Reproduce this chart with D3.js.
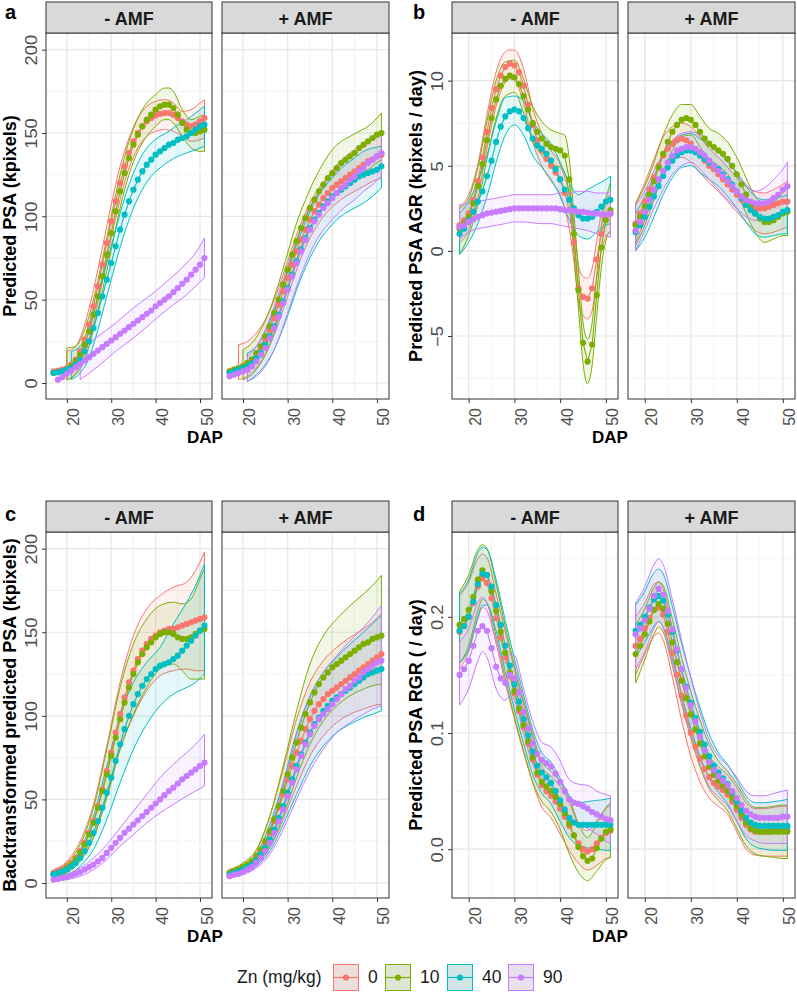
<!DOCTYPE html>
<html><head><meta charset="utf-8">
<script src="https://cdn.jsdelivr.net/npm/d3@7"></script>
<style>body{margin:0;background:#fff}svg{display:block}</style>
</head><body>
<svg id="chart" width="797" height="992"></svg>
<script>
// ---------- categories / ticks ----------
const znLevels = ["0","10","40","90"];
const znColors = ["#F8766D","#7CAE00","#00BFC4","#C77CFF"];
const facetNames = ["- AMF","+ AMF"];
const dap17 = [17,18,19,20,21,22,23,24,25,26,27,28,29,30,31,32,33,34,35,36,37,38,39,40,41,42,43,44,45,46,47,48,49,50,51];
const dap18 = [18,19,20,21,22,23,24,25,26,27,28,29,30,31,32,33,34,35,36,37,38,39,40,41,42,43,44,45,46,47,48,49,50,51];
const xTicks = [20,30,40,50];
const xMinor = [25,35,45];
const psaTicks = [0,50,100,150,200];
const psaMinor = [25,75,125,175];
const agrTicks = [-5,0,5,10];
const agrMinor = [-7.5,-2.5,2.5,7.5,12.5];
const rgrTicks = [0,0.1,0.2];
const rgrMinor = [0.05,0.15,0.25];

// ---------- panel a: predicted PSA (DAP 17..51) ----------
const aMinus0  = [7,7.5,8,9,11,14,19,26,35,46,58,71,84,97,109,120,130,138,145,150,154,157,159,160.5,161.5,162,162,161,159,157,155,154,155,157,159];
const aMinus10 = [6,6.5,7,8,10,13,17,23,31,41,52,64,77,90,103,115,126,135,143,149,154,158,161,164,166,167,167,165,161,156,152,150,150,151,152];
const aMinus40 = [6,6.5,7,8,9,11,14,19,25,33,42,52,62,72,82,92,101,109,116,122,127,131,134,137,139,141,143,144,146,147,148,150,152,154,155];
const aMinus90 = [null,2,3.5,5.5,7.5,9.5,11.5,13.5,15.5,17.5,19.5,21.5,23.5,25.5,27.5,29.5,31.5,33.5,35.5,37.5,39.5,41.5,43.5,46,48,50,52,54.5,57,59.5,62,65,68,71,75];
const aPlus0  = [7,8,9,10,12,14,17,21,26,32,39,47,55,63,71,79,86,92,98,103,107,111,114,117,119,121,123,125,127,129,131,133,134,136,137];
const aPlus10 = [7,8,9,10,12,14,18,22,28,34,42,50,59,68,77,85,93,99,105,110,115,119,123,126,129,132,134,136,138,141,143,145,147,149,150];
const aPlus40 = [6,7,8,9,10,12,15,18,23,28,34,41,49,57,65,73,80,87,93,98,102,106,109,112,114,116,118,120,122,124,125,126,127,128,130];
const aPlus90 = [4,5,6,7,8,10,13,17,21,27,33,40,48,56,64,72,79,86,92,97,101,105,108,111,114,117,119,122,124,127,129,132,134,136,138];
// bands: [DAP, lower, upper]
const aMinus0Band  = [[20,2,19],[22,6,22],[24,17,35],[26,36,56],[28,61,81],[30,87,107],[32,110,130],[34,129,147],[36,141,159],[38,148,166],[40,151,169],[42,152,170],[44,151,168],[46,148,163],[48,145,164],[50,146,168],[51,147,170]];
const aMinus10Band = [[20,2,21],[22,5,22],[24,14,32],[26,32,50],[28,55,74],[30,80,100],[32,105,125],[34,125,145],[36,139,159],[38,148,168],[40,154,173],[42,158,177],[43,158,177],[44,156,175],[46,148,164],[48,141,158],[50,139,160],[51,139,161]];
const aMinus40Band = [[21,2,19],[23,6,22],[25,15,34],[27,32,52],[29,52,72],[31,72,92],[33,90,111],[35,105,126],[37,116,137],[39,124,144],[41,129,148],[43,133,151],[45,136,155],[47,138,158],[49,140,162],[51,142,166]];
const aMinus90Band = [[23,2,20],[27,10,28],[31,19,36],[35,27,45],[39,36,53],[43,45,62],[47,53,72],[49,58,78],[51,63,87]];
const aPlus0Band  = [[19,2,23],[21,4,25],[23,9,30],[25,17,38],[27,29,50],[29,44,65],[31,60,81],[33,75,96],[35,87,108],[37,96,117],[39,103,124],[41,108,131],[43,112,136],[45,115,140],[47,118,143],[49,121,146],[51,123,149]];
const aPlus10Band = [[20,2,20],[22,5,24],[24,12,32],[26,23,44],[28,39,60],[30,57,78],[32,74,96],[34,88,110],[36,98,122],[38,106,132],[40,112,140],[42,116,145],[44,120,148],[46,124,151],[48,128,154],[50,132,159],[51,134,162]];
const aPlus40Band = [[21,1,18],[23,5,22],[25,11,31],[27,20,44],[29,33,59],[31,48,75],[33,63,90],[35,75,103],[37,85,113],[39,92,120],[41,98,126],[43,102,131],[45,105,135],[47,108,139],[49,112,141],[51,117,142]];
const aPlus90Band = [[21,1,16],[23,4,22],[25,10,32],[27,20,46],[29,34,62],[31,50,78],[33,65,93],[35,78,106],[37,88,114],[39,95,121],[41,101,127],[43,106,133],[45,110,138],[47,115,142],[49,119,146],[51,124,150]];

// ---------- panel b: predicted PSA AGR (DAP 18..51) ----------
const bMinus0  = [1.5,1.8,2.2,3.0,4.1,5.5,7.0,8.4,9.5,10.3,10.8,11.0,10.9,10.5,9.7,8.6,7.4,6.5,5.9,5.4,5.0,4.6,4.2,3.4,2.4,0.5,-2.2,-2.7,-2.8,-2.2,-0.5,1.0,2.0,2.2];
const bMinus10 = [1.3,1.6,2.0,2.8,3.8,5.1,6.5,7.8,8.9,9.7,10.1,10.3,10.2,9.8,9.1,8.3,7.5,7.0,6.6,6.3,6.1,6.0,5.9,5.6,4.2,1.0,-2.3,-5.4,-6.5,-5.5,-2.6,0.2,1.8,2.4];
const bMinus40 = [1.0,1.3,1.8,2.3,2.9,3.5,4.4,5.3,6.4,7.3,7.9,8.2,8.3,8.2,7.8,7.2,6.6,6.2,6.0,5.7,5.3,4.8,4.2,3.6,3.0,2.5,2.1,1.9,1.9,2.0,2.3,2.6,2.9,3.0];
const bMinus90 = [1.4,1.5,1.7,1.85,2.0,2.1,2.2,2.25,2.3,2.35,2.4,2.45,2.5,2.5,2.5,2.5,2.5,2.5,2.5,2.5,2.5,2.5,2.45,2.4,2.4,2.35,2.3,2.3,2.25,2.2,2.2,2.15,2.15,2.2];
const bPlus0  = [1.6,2.2,2.9,3.6,4.3,5.0,5.6,6.0,6.3,6.5,6.6,6.5,6.3,6.0,5.6,5.3,5.0,4.8,4.5,4.2,3.9,3.6,3.3,3.0,2.8,2.6,2.5,2.5,2.5,2.6,2.7,2.8,2.9,2.9];
const bPlus10 = [1.5,2.0,2.6,3.3,4.1,4.9,5.7,6.4,7.0,7.4,7.7,7.8,7.7,7.4,7.0,6.6,6.3,6.1,5.9,5.7,5.4,5.0,4.5,3.9,3.3,2.7,2.2,1.9,1.7,1.7,1.8,2.0,2.2,2.3];
const bPlus40 = [1.1,1.5,2.0,2.6,3.2,3.8,4.4,4.9,5.3,5.6,5.8,5.9,5.9,5.8,5.6,5.4,5.2,5.0,4.8,4.5,4.2,3.9,3.5,3.1,2.7,2.4,2.2,2.0,1.9,1.9,2.0,2.1,2.3,2.4];
const bPlus90 = [1.2,1.7,2.3,3.0,3.6,4.2,4.7,5.2,5.6,5.9,6.0,6.1,6.1,6.0,5.8,5.6,5.3,5.0,4.7,4.4,4.1,3.8,3.5,3.2,3.0,2.9,2.8,2.8,2.8,2.9,3.1,3.3,3.6,3.8];
const bMinus0Band  = [[18,0.5,2.6],[20,1.2,3.3],[22,3.1,5.1],[24,6.0,8.0],[26,8.5,10.5],[28,9.9,11.7],[29,10.1,11.8],[30,10.0,11.8],[32,8.7,10.7],[34,6.4,8.4],[36,5.0,6.9],[38,4.1,5.9],[40,3.3,5.1],[41,2.5,4.3],[42,1.3,3.4],[43,-0.6,1.6],[44,-3.0,-0.8],[45,-3.8,-1.5],[46,-4.0,-1.6],[47,-3.5,-1.0],[48,-1.6,0.6],[49,0.0,2.2],[50,0.8,3.0],[51,1.1,3.3]];
const bMinus10Band = [[18,-0.2,2.5],[20,0.9,3.1],[22,2.7,4.9],[24,5.4,7.6],[26,7.8,10.0],[28,9.1,11.1],[30,9.3,11.2],[32,8.1,10.1],[34,6.5,8.5],[36,5.6,7.6],[38,5.1,7.1],[40,4.9,6.9],[41,4.6,6.8],[42,3.2,5.4],[43,-0.1,2.2],[44,-3.4,-1.1],[45,-6.6,-4.2],[46,-7.8,-5.2],[47,-6.7,-4.2],[48,-3.8,-1.4],[49,-1.0,1.4],[50,0.6,3.0],[51,1.2,4.0]];
const bMinus40Band = [[18,-0.2,2.2],[20,0.5,2.9],[22,1.6,4.1],[24,3.2,5.6],[26,5.2,7.6],[28,6.8,9.0],[30,7.4,9.1],[32,6.8,8.8],[34,5.6,7.6],[36,4.9,6.9],[38,4.2,6.3],[40,3.2,5.2],[42,1.8,4.0],[44,0.9,3.3],[46,0.7,3.6],[48,1.1,3.9],[50,1.5,4.2],[51,1.6,4.4]];
const bMinus90Band = [[18,0.7,2.7],[20,1.1,2.8],[22,1.3,2.9],[24,1.4,3.0],[26,1.5,3.1],[28,1.6,3.2],[30,1.7,3.3],[32,1.7,3.3],[34,1.65,3.3],[36,1.6,3.3],[38,1.6,3.3],[40,1.5,3.4],[42,1.4,3.4],[44,1.3,3.5],[46,1.2,3.5],[48,1.0,3.4],[50,0.9,3.4],[51,0.8,3.5]];
const bPlus0Band  = [[18,0.5,2.8],[20,1.8,4.0],[22,3.3,5.4],[24,4.6,6.7],[26,5.3,7.3],[28,5.5,7.5],[30,5.2,7.3],[32,4.6,6.7],[34,4.0,6.0],[36,3.5,5.5],[38,2.9,4.9],[40,2.3,4.3],[42,1.7,3.8],[44,1.2,3.5],[46,1.0,3.4],[48,1.1,3.6],[50,1.3,3.9],[51,1.4,4.1]];
const bPlus10Band = [[18,0.3,2.8],[20,1.5,3.8],[22,3.0,5.2],[24,4.6,6.8],[26,5.9,8.0],[28,6.7,8.6],[30,6.8,8.6],[32,6.1,7.9],[34,5.4,7.2],[36,5.0,6.9],[38,4.5,6.4],[40,3.5,5.5],[42,2.2,4.3],[44,1.1,3.2],[46,0.5,2.8],[48,0.7,2.9],[50,0.9,3.4],[51,0.9,3.7]];
const bPlus40Band = [[18,0.0,2.2],[20,0.8,3.2],[22,2.0,4.4],[24,3.3,5.6],[26,4.3,6.4],[28,4.9,6.8],[30,5.0,6.9],[32,4.6,6.6],[34,4.2,6.2],[36,3.8,5.8],[38,3.2,5.3],[40,2.5,4.6],[42,1.7,3.8],[44,1.0,3.2],[46,0.8,3.0],[48,0.9,3.1],[50,1.0,3.2],[51,1.0,3.3]];
const bPlus90Band = [[18,0.0,2.7],[20,1.2,3.5],[22,2.5,4.7],[24,3.6,5.7],[26,4.5,6.5],[28,5.0,6.9],[30,5.2,7.0],[32,4.8,6.8],[34,4.2,6.3],[36,3.6,5.8],[38,3.0,5.2],[40,2.5,4.6],[42,2.0,3.9],[44,1.8,3.5],[46,1.8,3.7],[48,2.0,4.2],[50,2.2,4.8],[51,2.3,5.2]];

// ---------- panel c: backtransformed predicted PSA (DAP 17..51) ----------
const cMinus0  = [6,7,8,10,12,15,19,24,30,37,46,56,67,78,90,101,111,120,127,134,139,143,146,148,150,151,152,152,153,154,155,156,157,158,159];
const cMinus10 = [5,6,7,9,11,14,18,23,29,36,45,55,65,76,87,98,108,117,125,132,137,141,144,147,149,150,150,149,147,146,146,147,149,151,152];
const cMinus40 = [5,6,7,8,10,12,15,19,24,30,37,45,54,63,73,83,92,100,107,113,118,122,125,128,130,131,132,134,136,139,142,145,148,151,154];
const cMinus90 = [2,2.5,3,3.5,4.5,5.5,6.5,8,9.5,11,13,15,18,21,24,27,30,32.5,35,37.5,40,42.5,45,47.5,50,52.5,55,57,59.5,62,64,66,68,70,72];
const cPlus0  = [6,7,8,9,10.5,12.5,15,19,24,30,37,45,53,62,70,78,85,92,98,103,107,110,113,115,117,119,121,123,125,127,129,131,133,135,137];
const cPlus10 = [6,7,8,9.5,11,13,16,20,25,31,38,46,55,65,75,84,93,101,108,114,119,123,126,129,131,133,135,137,139,141,143,144,146,147,148];
const cPlus40 = [5,6,7,8,9.5,11,13.5,17,21,26,32,39,46,54,62,70,77,84,90,95,99,103,106,109,111,113,115,117,119,121,123,125,126,127,128];
const cPlus90 = [4,5,5.5,6.5,8,9.5,12,15,19,24,30,37,44,52,60,68,76,83,89,94,98,101,104,107,110,113,116,118,121,123,126,128,130,132,133];
const cMinus0Band  = [[17,4,8],[20,7,13],[23,14,25],[26,27,47],[29,52,82],[32,80,120],[35,100,148],[38,115,164],[41,124,172],[44,127,177],[47,128,180],[49,127,187],[51,127,198]];
const cMinus10Band = [[17,4,7],[20,6,12],[23,13,23],[26,27,45],[29,51,80],[32,80,117],[35,101,143],[38,117,158],[41,128,166],[44,131,168],[46,127,167],[48,122,170],[50,122,182],[51,122,188]];
const cMinus40Band = [[17,4,7],[20,5,11],[23,10,20],[26,20,40],[29,38,70],[32,60,100],[35,80,120],[38,95,132],[41,106,141],[44,113,155],[47,117,168],[49,120,178],[51,125,191]];
const cMinus90Band = [[17,1,3],[20,2,5],[23,4,9],[26,8,15],[29,14,23],[32,22,33],[35,29,43],[38,36,53],[41,42,63],[44,47,71],[47,52,78],[49,55,83],[51,58,89]];
const cPlus0Band  = [[17,5,8],[20,7,11],[23,11,19],[26,21,40],[29,38,68],[32,58,98],[35,76,120],[38,88,133],[41,96,141],[44,101,147],[47,104,152],[49,106,156],[51,107,161]];
const cPlus10Band = [[17,5,8],[20,7,12],[23,12,20],[26,22,40],[29,40,70],[32,63,103],[35,83,131],[38,97,148],[41,106,158],[44,112,166],[47,116,173],[49,118,178],[51,119,184]];
const cPlus40Band = [[17,4,7],[20,6,10],[23,10,17],[26,19,35],[29,35,60],[32,53,90],[35,70,112],[38,82,126],[41,90,135],[44,95,143],[47,99,150],[49,101,155],[51,103,160]];
const cPlus90Band = [[17,3,5],[20,5,8],[23,9,15],[26,17,32],[29,32,58],[32,50,88],[35,67,111],[38,80,126],[41,90,136],[44,96,145],[47,101,153],[49,104,159],[51,106,166]];

// ---------- panel d: predicted PSA RGR (DAP 18..51) ----------
const dMinus0  = [0.187,0.192,0.200,0.212,0.226,0.233,0.229,0.216,0.199,0.182,0.165,0.149,0.134,0.119,0.105,0.091,0.077,0.064,0.055,0.050,0.046,0.041,0.035,0.028,0.020,0.012,0.005,0.000,-0.002,0.000,0.005,0.010,0.014,0.016];
const dMinus10 = [0.193,0.198,0.206,0.217,0.232,0.240,0.236,0.222,0.205,0.187,0.169,0.152,0.136,0.121,0.107,0.093,0.079,0.066,0.058,0.054,0.050,0.045,0.039,0.031,0.022,0.012,0.002,-0.006,-0.010,-0.008,0.001,0.009,0.015,0.017];
const dMinus40 = [0.188,0.192,0.200,0.213,0.228,0.237,0.236,0.226,0.210,0.193,0.175,0.158,0.142,0.127,0.112,0.098,0.084,0.072,0.066,0.062,0.057,0.050,0.042,0.034,0.027,0.023,0.021,0.021,0.021,0.021,0.021,0.021,0.021,0.021];
const dMinus90 = [0.150,0.155,0.162,0.175,0.188,0.192,0.188,0.173,0.157,0.147,0.143,0.150,0.147,0.135,0.118,0.104,0.091,0.082,0.077,0.074,0.071,0.065,0.058,0.050,0.043,0.040,0.039,0.037,0.035,0.032,0.030,0.028,0.026,0.025];
const dPlus0  = [0.175,0.181,0.190,0.199,0.206,0.208,0.202,0.187,0.169,0.150,0.132,0.115,0.100,0.088,0.078,0.069,0.062,0.057,0.054,0.051,0.047,0.041,0.034,0.027,0.021,0.017,0.015,0.015,0.015,0.015,0.016,0.016,0.016,0.016];
const dPlus10 = [0.168,0.175,0.185,0.196,0.206,0.211,0.207,0.194,0.178,0.161,0.145,0.130,0.116,0.103,0.091,0.080,0.071,0.064,0.059,0.055,0.050,0.044,0.037,0.030,0.023,0.018,0.016,0.015,0.015,0.015,0.015,0.015,0.015,0.015];
const dPlus40 = [0.188,0.193,0.200,0.208,0.215,0.218,0.214,0.202,0.187,0.171,0.155,0.140,0.126,0.113,0.101,0.090,0.080,0.072,0.066,0.061,0.056,0.049,0.041,0.033,0.027,0.023,0.021,0.020,0.020,0.020,0.020,0.020,0.020,0.020];
const dPlus90 = [0.185,0.190,0.197,0.207,0.218,0.224,0.219,0.205,0.189,0.172,0.155,0.139,0.124,0.110,0.097,0.085,0.075,0.068,0.063,0.059,0.055,0.050,0.044,0.038,0.033,0.030,0.028,0.027,0.027,0.027,0.027,0.027,0.028,0.028];
const dMinus0Band  = [[18,0.155,0.218],[20,0.170,0.230],[22,0.198,0.250],[23,0.208,0.254],[24,0.205,0.251],[26,0.177,0.220],[28,0.143,0.187],[30,0.112,0.155],[32,0.083,0.125],[34,0.057,0.096],[36,0.036,0.071],[38,0.027,0.063],[40,0.013,0.054],[42,-0.001,0.040],[44,-0.012,0.022],[46,-0.018,0.016],[48,-0.014,0.025],[50,-0.008,0.035],[51,-0.007,0.038]];
const dMinus10Band = [[18,0.160,0.222],[20,0.175,0.236],[22,0.205,0.258],[23,0.215,0.262],[24,0.212,0.259],[26,0.183,0.228],[28,0.147,0.192],[30,0.114,0.158],[32,0.085,0.128],[34,0.058,0.099],[36,0.041,0.075],[38,0.032,0.067],[40,0.017,0.058],[42,-0.004,0.044],[44,-0.020,0.022],[46,-0.027,0.010],[48,-0.019,0.022],[50,-0.009,0.036],[51,-0.007,0.040]];
const dMinus40Band = [[18,0.160,0.220],[20,0.172,0.232],[22,0.200,0.255],[23,0.210,0.260],[24,0.210,0.258],[26,0.188,0.232],[28,0.153,0.197],[30,0.120,0.164],[32,0.091,0.133],[34,0.064,0.103],[36,0.048,0.083],[38,0.039,0.075],[40,0.024,0.061],[42,0.010,0.046],[44,0.003,0.040],[46,0.001,0.041],[48,0.000,0.042],[50,-0.001,0.043],[51,-0.001,0.044]];
const dMinus90Band = [[18,0.124,0.178],[20,0.138,0.190],[22,0.162,0.212],[23,0.170,0.217],[24,0.165,0.212],[26,0.138,0.180],[28,0.128,0.160],[29,0.132,0.168],[30,0.128,0.167],[32,0.100,0.138],[34,0.073,0.110],[36,0.062,0.092],[38,0.054,0.088],[40,0.040,0.076],[42,0.028,0.060],[44,0.022,0.056],[46,0.018,0.055],[48,0.013,0.050],[50,0.007,0.047],[51,0.005,0.046]];
const dPlus0Band  = [[18,0.150,0.200],[20,0.168,0.212],[22,0.183,0.228],[23,0.186,0.230],[24,0.180,0.224],[26,0.148,0.190],[28,0.111,0.153],[30,0.080,0.120],[32,0.058,0.098],[34,0.044,0.080],[36,0.037,0.071],[38,0.030,0.064],[40,0.015,0.053],[42,0.000,0.040],[44,-0.005,0.035],[46,-0.006,0.035],[48,-0.006,0.036],[50,-0.006,0.037],[51,-0.006,0.037]];
const dPlus10Band = [[18,0.143,0.193],[20,0.163,0.207],[22,0.185,0.225],[23,0.191,0.230],[24,0.187,0.227],[26,0.158,0.198],[28,0.125,0.165],[30,0.096,0.136],[32,0.071,0.111],[34,0.052,0.090],[36,0.042,0.076],[38,0.033,0.067],[40,0.018,0.056],[42,0.003,0.043],[44,-0.004,0.036],[46,-0.006,0.036],[48,-0.007,0.037],[50,-0.008,0.038],[51,-0.008,0.038]];
const dPlus40Band = [[18,0.165,0.210],[20,0.178,0.222],[22,0.192,0.238],[23,0.196,0.241],[24,0.191,0.237],[26,0.164,0.209],[28,0.133,0.177],[30,0.104,0.148],[32,0.080,0.122],[34,0.061,0.099],[36,0.049,0.083],[38,0.039,0.073],[40,0.024,0.060],[42,0.009,0.046],[44,0.002,0.040],[46,0.000,0.040],[48,-0.001,0.041],[50,-0.001,0.042],[51,-0.001,0.043]];
const dPlus90Band = [[18,0.155,0.212],[20,0.170,0.226],[22,0.190,0.245],[23,0.196,0.250],[24,0.191,0.245],[26,0.160,0.215],[28,0.127,0.180],[30,0.098,0.148],[32,0.074,0.118],[34,0.054,0.094],[36,0.045,0.080],[38,0.037,0.072],[40,0.024,0.062],[42,0.012,0.050],[44,0.007,0.046],[46,0.005,0.046],[48,0.005,0.048],[50,0.005,0.050],[51,0.005,0.051]];

// ---------- layout ----------
const FONT = "'Liberation Sans', Arial, Helvetica, sans-serif";
const panels = [
  {label:"a", dap:dap17, xDomain:[15.3,52.7], yDomain:[-9.6,210], facetsX:[[46,212],[222,389]],
   top:33, bottom:399, stripTop:2, yTicks:psaTicks, yMinor:psaMinor, fmt:d3.format("d"),
   yTitle:"Predicted PSA (kpixels)", yTitleX:16, labelXY:[5,19], dapXY:[205,443],
   means:[[aMinus0,aMinus10,aMinus40,aMinus90],[aPlus0,aPlus10,aPlus40,aPlus90]],
   bands:[[aMinus0Band,aMinus10Band,aMinus40Band,aMinus90Band],[aPlus0Band,aPlus10Band,aPlus40Band,aPlus90Band]]},
  {label:"b", dap:dap18, xDomain:[16.35,52.65], yDomain:[-8.7,12.8], facetsX:[[452,618],[628,795]],
   top:33, bottom:399, stripTop:2, yTicks:agrTicks, yMinor:agrMinor, fmt:d3.format("d"),
   yTitle:"Predicted PSA AGR (kpixels / day)", yTitleX:422, labelXY:[413,19], dapXY:[610,443],
   means:[[bMinus0,bMinus10,bMinus40,bMinus90],[bPlus0,bPlus10,bPlus40,bPlus90]],
   bands:[[bMinus0Band,bMinus10Band,bMinus40Band,bMinus90Band],[bPlus0Band,bPlus10Band,bPlus40Band,bPlus90Band]]},
  {label:"c", dap:dap17, xDomain:[15.3,52.7], yDomain:[-9,210], facetsX:[[46,212],[222,389]],
   top:532, bottom:898, stripTop:501, yTicks:psaTicks, yMinor:psaMinor, fmt:d3.format("d"),
   yTitle:"Backtransformed predicted PSA (kpixels)", yTitleX:16, labelXY:[5,521], dapXY:[205,942],
   means:[[cMinus0,cMinus10,cMinus40,cMinus90],[cPlus0,cPlus10,cPlus40,cPlus90]],
   bands:[[cMinus0Band,cMinus10Band,cMinus40Band,cMinus90Band],[cPlus0Band,cPlus10Band,cPlus40Band,cPlus90Band]]},
  {label:"d", dap:dap18, xDomain:[16.35,52.65], yDomain:[-0.042,0.273], facetsX:[[452,618],[628,795]],
   top:532, bottom:898, stripTop:501, yTicks:rgrTicks, yMinor:rgrMinor, fmt:d3.format(".1f"),
   yTitle:"Predicted PSA RGR ( / day)", yTitleX:422, labelXY:[413,521], dapXY:[610,942],
   means:[[dMinus0,dMinus10,dMinus40,dMinus90],[dPlus0,dPlus10,dPlus40,dPlus90]],
   bands:[[dMinus0Band,dMinus10Band,dMinus40Band,dMinus90Band],[dPlus0Band,dPlus10Band,dPlus40Band,dPlus90Band]]}
];

const svg = d3.select("#chart");
svg.append("rect").attr("width",797).attr("height",992).attr("fill","#fff");
let clipId = 0;

panels.forEach(p => {
  p.facetsX.forEach((fx, fi) => {
    const x = d3.scaleLinear().domain(p.xDomain).range(fx);
    const y = d3.scaleLinear().domain(p.yDomain).range([p.bottom, p.top]);
    const g = svg.append("g");
    const id = "clip" + (clipId++);
    g.append("clipPath").attr("id", id).append("rect")
      .attr("x", fx[0]).attr("y", p.top).attr("width", fx[1]-fx[0]).attr("height", p.bottom-p.top);

    // grid
    const grid = g.append("g");
    grid.selectAll(".ymin").data(p.yMinor.filter(v => v > p.yDomain[0] && v < p.yDomain[1])).join("line")
      .attr("x1", fx[0]).attr("x2", fx[1]).attr("y1", d => y(d)).attr("y2", d => y(d))
      .attr("stroke", "#F0F0F0").attr("stroke-width", 0.8);
    grid.selectAll(".xmin").data(xMinor).join("line")
      .attr("y1", p.top).attr("y2", p.bottom).attr("x1", d => x(d)).attr("x2", d => x(d))
      .attr("stroke", "#F0F0F0").attr("stroke-width", 0.8);
    grid.selectAll(".ymaj").data(p.yTicks).join("line")
      .attr("x1", fx[0]).attr("x2", fx[1]).attr("y1", d => y(d)).attr("y2", d => y(d))
      .attr("stroke", "#E6E6E6").attr("stroke-width", 1.2);
    grid.selectAll(".xmaj").data(xTicks).join("line")
      .attr("y1", p.top).attr("y2", p.bottom).attr("x1", d => x(d)).attr("x2", d => x(d))
      .attr("stroke", "#E6E6E6").attr("stroke-width", 1.2);

    const plot = g.append("g").attr("clip-path", `url(#${id})`);
    const area = d3.area().x(d => x(d[0])).y0(d => y(d[1])).y1(d => y(d[2])).curve(d3.curveMonotoneX);
    // ribbons
    p.bands[fi].forEach((band, si) => {
      plot.append("path").datum(band).attr("d", area)
        .attr("fill", znColors[si]).attr("fill-opacity", 0.1)
        .attr("stroke", znColors[si]).attr("stroke-width", 1);
    });
    // lines
    const line = d3.line().defined(d => d[1] != null).x(d => x(d[0])).y(d => y(d[1]));
    p.means[fi].forEach((vals, si) => {
      const pts = p.dap.map((dd, i) => [dd, vals[i]]);
      plot.append("path").datum(pts).attr("d", line)
        .attr("fill", "none").attr("stroke", znColors[si]).attr("stroke-width", 1.1);
    });
    // points
    p.means[fi].forEach((vals, si) => {
      const pts = p.dap.map((dd, i) => [dd, vals[i]]).filter(d => d[1] != null);
      plot.selectAll(null).data(pts).join("circle")
        .attr("cx", d => x(d[0])).attr("cy", d => y(d[1])).attr("r", 3.1)
        .attr("fill", znColors[si]);
    });

    // border
    g.append("rect").attr("x", fx[0]).attr("y", p.top).attr("width", fx[1]-fx[0]).attr("height", p.bottom-p.top)
      .attr("fill", "none").attr("stroke", "#333").attr("stroke-width", 1);
    // strip
    g.append("rect").attr("x", fx[0]).attr("y", p.stripTop).attr("width", fx[1]-fx[0]).attr("height", p.top-p.stripTop)
      .attr("fill", "#D9D9D9").attr("stroke", "#333").attr("stroke-width", 1);
    g.append("text").attr("x", (fx[0]+fx[1])/2).attr("y", (p.stripTop+p.top)/2 + 7)
      .attr("text-anchor", "middle").attr("font-family", FONT).attr("font-weight", "bold")
      .attr("font-size", 18).attr("fill", "#1A1A1A").text(facetNames[fi]);

    // x axis
    const xa = g.append("g").attr("transform", `translate(0,${p.bottom})`)
      .call(d3.axisBottom(x).tickValues(xTicks).tickSize(4).tickSizeOuter(0));
    xa.select(".domain").remove();
    xa.selectAll(".tick line").attr("stroke", "#333");
    xa.selectAll(".tick text").attr("x", null).attr("y", null).attr("dy", null)
      .attr("transform", "translate(12,9) rotate(-90)").attr("text-anchor", "end")
      .attr("font-family", FONT).attr("font-size", 16).attr("fill", "#4D4D4D");

    // y axis (left facet only)
    if (fi === 0) {
      const ya = g.append("g").attr("transform", `translate(${fx[0]},0)`)
        .call(d3.axisLeft(y).tickValues(p.yTicks).tickFormat(p.fmt).tickSize(4).tickSizeOuter(0));
      ya.select(".domain").remove();
      ya.selectAll(".tick line").attr("stroke", "#333");
      ya.selectAll(".tick text").attr("x", null).attr("y", null).attr("dy", null)
        .attr("transform", "translate(-9,0) rotate(-90) scale(1.15,1)").attr("text-anchor", "middle")
        .attr("font-family", FONT).attr("font-size", 16).attr("fill", "#4D4D4D");
    }
  });

  // titles
  svg.append("text").attr("transform", `translate(${p.yTitleX},${(p.top+p.bottom)/2}) rotate(-90)`)
    .attr("text-anchor", "middle").attr("font-family", FONT).attr("font-weight", "bold")
    .attr("font-size", 18).attr("fill", "#000").text(p.yTitle);
  svg.append("text").attr("x", p.dapXY[0]).attr("y", p.dapXY[1]).attr("text-anchor", "middle")
    .attr("font-family", FONT).attr("font-weight", "bold").attr("font-size", 17).attr("fill", "#000").text("DAP");
  svg.append("text").attr("x", p.labelXY[0]).attr("y", p.labelXY[1])
    .attr("font-family", FONT).attr("font-weight", "bold").attr("font-size", 20).attr("fill", "#000").text(p.label);
});

// ---------- legend ----------
const legend = svg.append("g");
legend.append("text").attr("x", 237).attr("y", 983).attr("font-family", FONT).attr("font-size", 17.5)
  .attr("fill", "#1A1A1A").text("Zn (mg/kg)");
const keyXs = {"0":333, "10":385, "40":447, "90":508};
znLevels.forEach((lv, i) => {
  const kx = keyXs[lv], ky = 964, kw = 26, kh = 27;
  legend.append("rect").attr("x", kx).attr("y", ky).attr("width", kw).attr("height", kh).attr("fill", "#EBEBEB");
  legend.append("rect").attr("x", kx+0.5).attr("y", ky+0.5).attr("width", kw-1).attr("height", kh-1)
    .attr("fill", znColors[i]).attr("fill-opacity", 0.1).attr("stroke", znColors[i]).attr("stroke-width", 1);
  legend.append("line").attr("x1", kx+1).attr("x2", kx+kw-1).attr("y1", ky+kh/2).attr("y2", ky+kh/2)
    .attr("stroke", znColors[i]).attr("stroke-width", 1.2);
  legend.append("circle").attr("cx", kx+kw/2).attr("cy", ky+kh/2).attr("r", 3.1).attr("fill", znColors[i]);
  legend.append("text").attr("x", kx+kw+9).attr("y", 983).attr("font-family", FONT).attr("font-size", 17.5)
    .attr("fill", "#1A1A1A").text(lv);
});
</script>
</body></html>
